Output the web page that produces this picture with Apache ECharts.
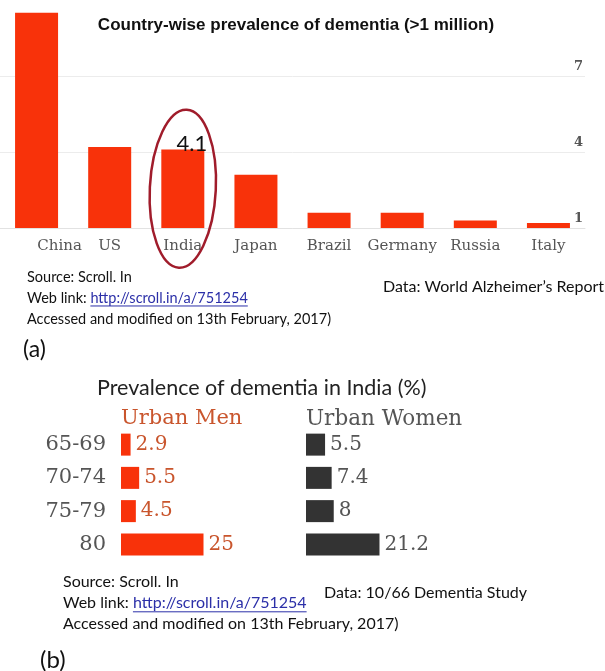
<!DOCTYPE html>
<html><head><meta charset="utf-8">
<script src="https://cdn.jsdelivr.net/npm/echarts@6/dist/echarts.min.js"></script>
<style>html,body{margin:0;padding:0;background:#fff}#c{width:605px;height:671px}</style>
</head><body><div id="c"></div>
<script>
// ---- data ----
const countries = ['China', 'US', 'India', 'Japan', 'Brazil', 'Germany', 'Russia', 'Italy'];
const dementiaMillions = [9.5, 4.2, 4.1, 3.1, 1.6, 1.6, 1.3, 1.2];
const highlightedCountry = 'India';
const ageGroups = ['65-69', '70-74', '75-79', '80'];
const urbanMen = [2.9, 5.5, 4.5, 25];
const urbanWomen = [5.5, 7.4, 8, 21.2];

// ---- styles ----
const RED = '#f8320a';
const MEN_TXT = '#c9552d';
const GRAY = '#555';
const SERIF = '"DejaVu Serif", serif';
const SANS = 'Lato, "Open Sans", sans-serif';

const chart = echarts.init(document.getElementById('c'), null, {renderer: 'canvas'});

function measure(text, font) {
  const c = document.createElement('canvas').getContext('2d');
  c.font = font; return c.measureText(text).width;
}

function txt(x, y, text, font, fill, align) {
  return {type: 'text', x: x, y: y, z: 10,
    style: {text: text, font: font, fill: fill, textAlign: align || 'left', textVerticalAlign: 'middle'}};
}

function linkBlock(x, y0, gap, size, dataText, dataX, dataY, dataSize) {
  const f = size + 'px ' + SANS;
  const pre = 'Web link: ';
  const url = 'http://scroll.in/a/751254';
  const preW = measure(pre, f);
  const urlW = measure(url, f);
  return [
    txt(x, y0, 'Source: Scroll. In', f, '#111'),
    txt(x, y0 + gap, pre, f, '#111'),
    txt(x + preW, y0 + gap, url, f, '#2b2fa8'),
    {type: 'line', z: 10, shape: {x1: x + preW, y1: y0 + gap + size * 0.55, x2: x + preW + urlW, y2: y0 + gap + size * 0.55},
      style: {stroke: '#2b2fa8', lineWidth: 1}},
    txt(x, y0 + 2 * gap, 'Accessed and modified on 13th February, 2017)', f, '#111'),
    txt(dataX, dataY, dataText, dataSize + 'px ' + SANS, '#111')
  ];
}

const topData = dementiaMillions.map((v, i) => countries[i] === highlightedCountry
  ? {value: v, label: {show: true, position: 'top', distance: 0, offset: [9, 5], color: '#111',
      fontFamily: SANS, fontSize: 22, formatter: '{c}'}}
  : v);

const option = {
  animation: false,
  backgroundColor: '#fff',
  grid: [
    {left: -6, right: 20, top: 0, height: 228},
    {left: 121, width: 99, top: 428, height: 133},
    {left: 306, width: 104, top: 428, height: 133}
  ],
  xAxis: [
    {gridIndex: 0, type: 'category', data: countries,
      axisLine: {lineStyle: {color: '#e2e2e2'}}, axisTick: {show: false},
      axisLabel: {interval: 0, color: GRAY, fontFamily: SERIF, fontSize: 15, margin: 11,
        formatter: (v, i) => i === 0 ? '{s|' + v + '}' : v,
        rich: {s: {padding: [0, 0, 0, 46], color: GRAY, fontFamily: SERIF, fontSize: 15}}}},
    {gridIndex: 1, type: 'value', min: 0, max: 30, show: false},
    {gridIndex: 2, type: 'value', min: 0, max: 30, show: false}
  ],
  yAxis: [
    {gridIndex: 0, type: 'value', position: 'right', min: 1, max: 10, interval: 3,
      axisLine: {show: false}, axisTick: {show: false},
      splitLine: {show: true, showMaxLine: false, lineStyle: {color: '#ececec'}},
      axisLabel: {inside: true, showMaxLabel: false, margin: 2, color: GRAY, fontFamily: SERIF,
        fontSize: 13, fontWeight: 'bold', verticalAlign: 'bottom', padding: [0, 0, 3, 0]}},
    {gridIndex: 1, type: 'category', data: ageGroups, inverse: true,
      axisLine: {show: false}, axisTick: {show: false},
      axisLabel: {color: GRAY, fontFamily: SERIF, fontSize: 21, margin: 15}},
    {gridIndex: 2, type: 'category', data: ageGroups, inverse: true, show: false}
  ],
  series: [
    {type: 'bar', xAxisIndex: 0, yAxisIndex: 0, data: topData, barWidth: 43,
      itemStyle: {color: RED}},
    {type: 'bar', xAxisIndex: 1, yAxisIndex: 1, data: urbanMen, barWidth: 22,
      itemStyle: {color: RED},
      label: {show: true, position: 'right', distance: 5, color: MEN_TXT, fontFamily: SERIF, fontSize: 20}},
    {type: 'bar', xAxisIndex: 2, yAxisIndex: 2, data: urbanWomen, barWidth: 22,
      itemStyle: {color: '#333'},
      label: {show: true, position: 'right', distance: 5, color: GRAY, fontFamily: SERIF, fontSize: 20}}
  ],
  graphic: []
};
chart.setOption(option);

// decoration positions derived from axes
const ix = countries.indexOf(highlightedCountry);
const cx = chart.convertToPixel({xAxisIndex: 0}, ix);
const cy = chart.convertToPixel({yAxisIndex: 0}, 2.55);

const g = [
  txt(296, 25, 'Country-wise prevalence of dementia (>1 million)', 'bold 17px "Liberation Sans", Arial, sans-serif', '#111', 'center'),
  {type: 'ellipse', z: 20, x: cx, y: cy, rotation: -0.05, shape: {cx: 0, cy: 0, rx: 33, ry: 79},
    style: {fill: 'none', stroke: '#a01c2b', lineWidth: 2.5}},
  ...linkBlock(27, 277, 21, 14.5, 'Data: World Alzheimer\u2019s Report', 383, 287, 16),
  txt(23, 350, '(a)', '23px ' + SANS, '#111'),
  txt(97, 388, 'Prevalence of dementia in India (%)', '21.5px ' + SANS, '#222'),
  txt(121, 419, 'Urban Men', '21px ' + SERIF, MEN_TXT),
  txt(306, 419, 'Urban Women', '21.5px ' + SERIF, GRAY),
  ...linkBlock(63, 582, 21, 16, 'Data: 10/66 Dementia Study', 324, 593, 16),
  txt(40, 660, '(b)', '24px ' + SANS, '#111')
];
chart.setOption({graphic: g});
</script></body></html>
